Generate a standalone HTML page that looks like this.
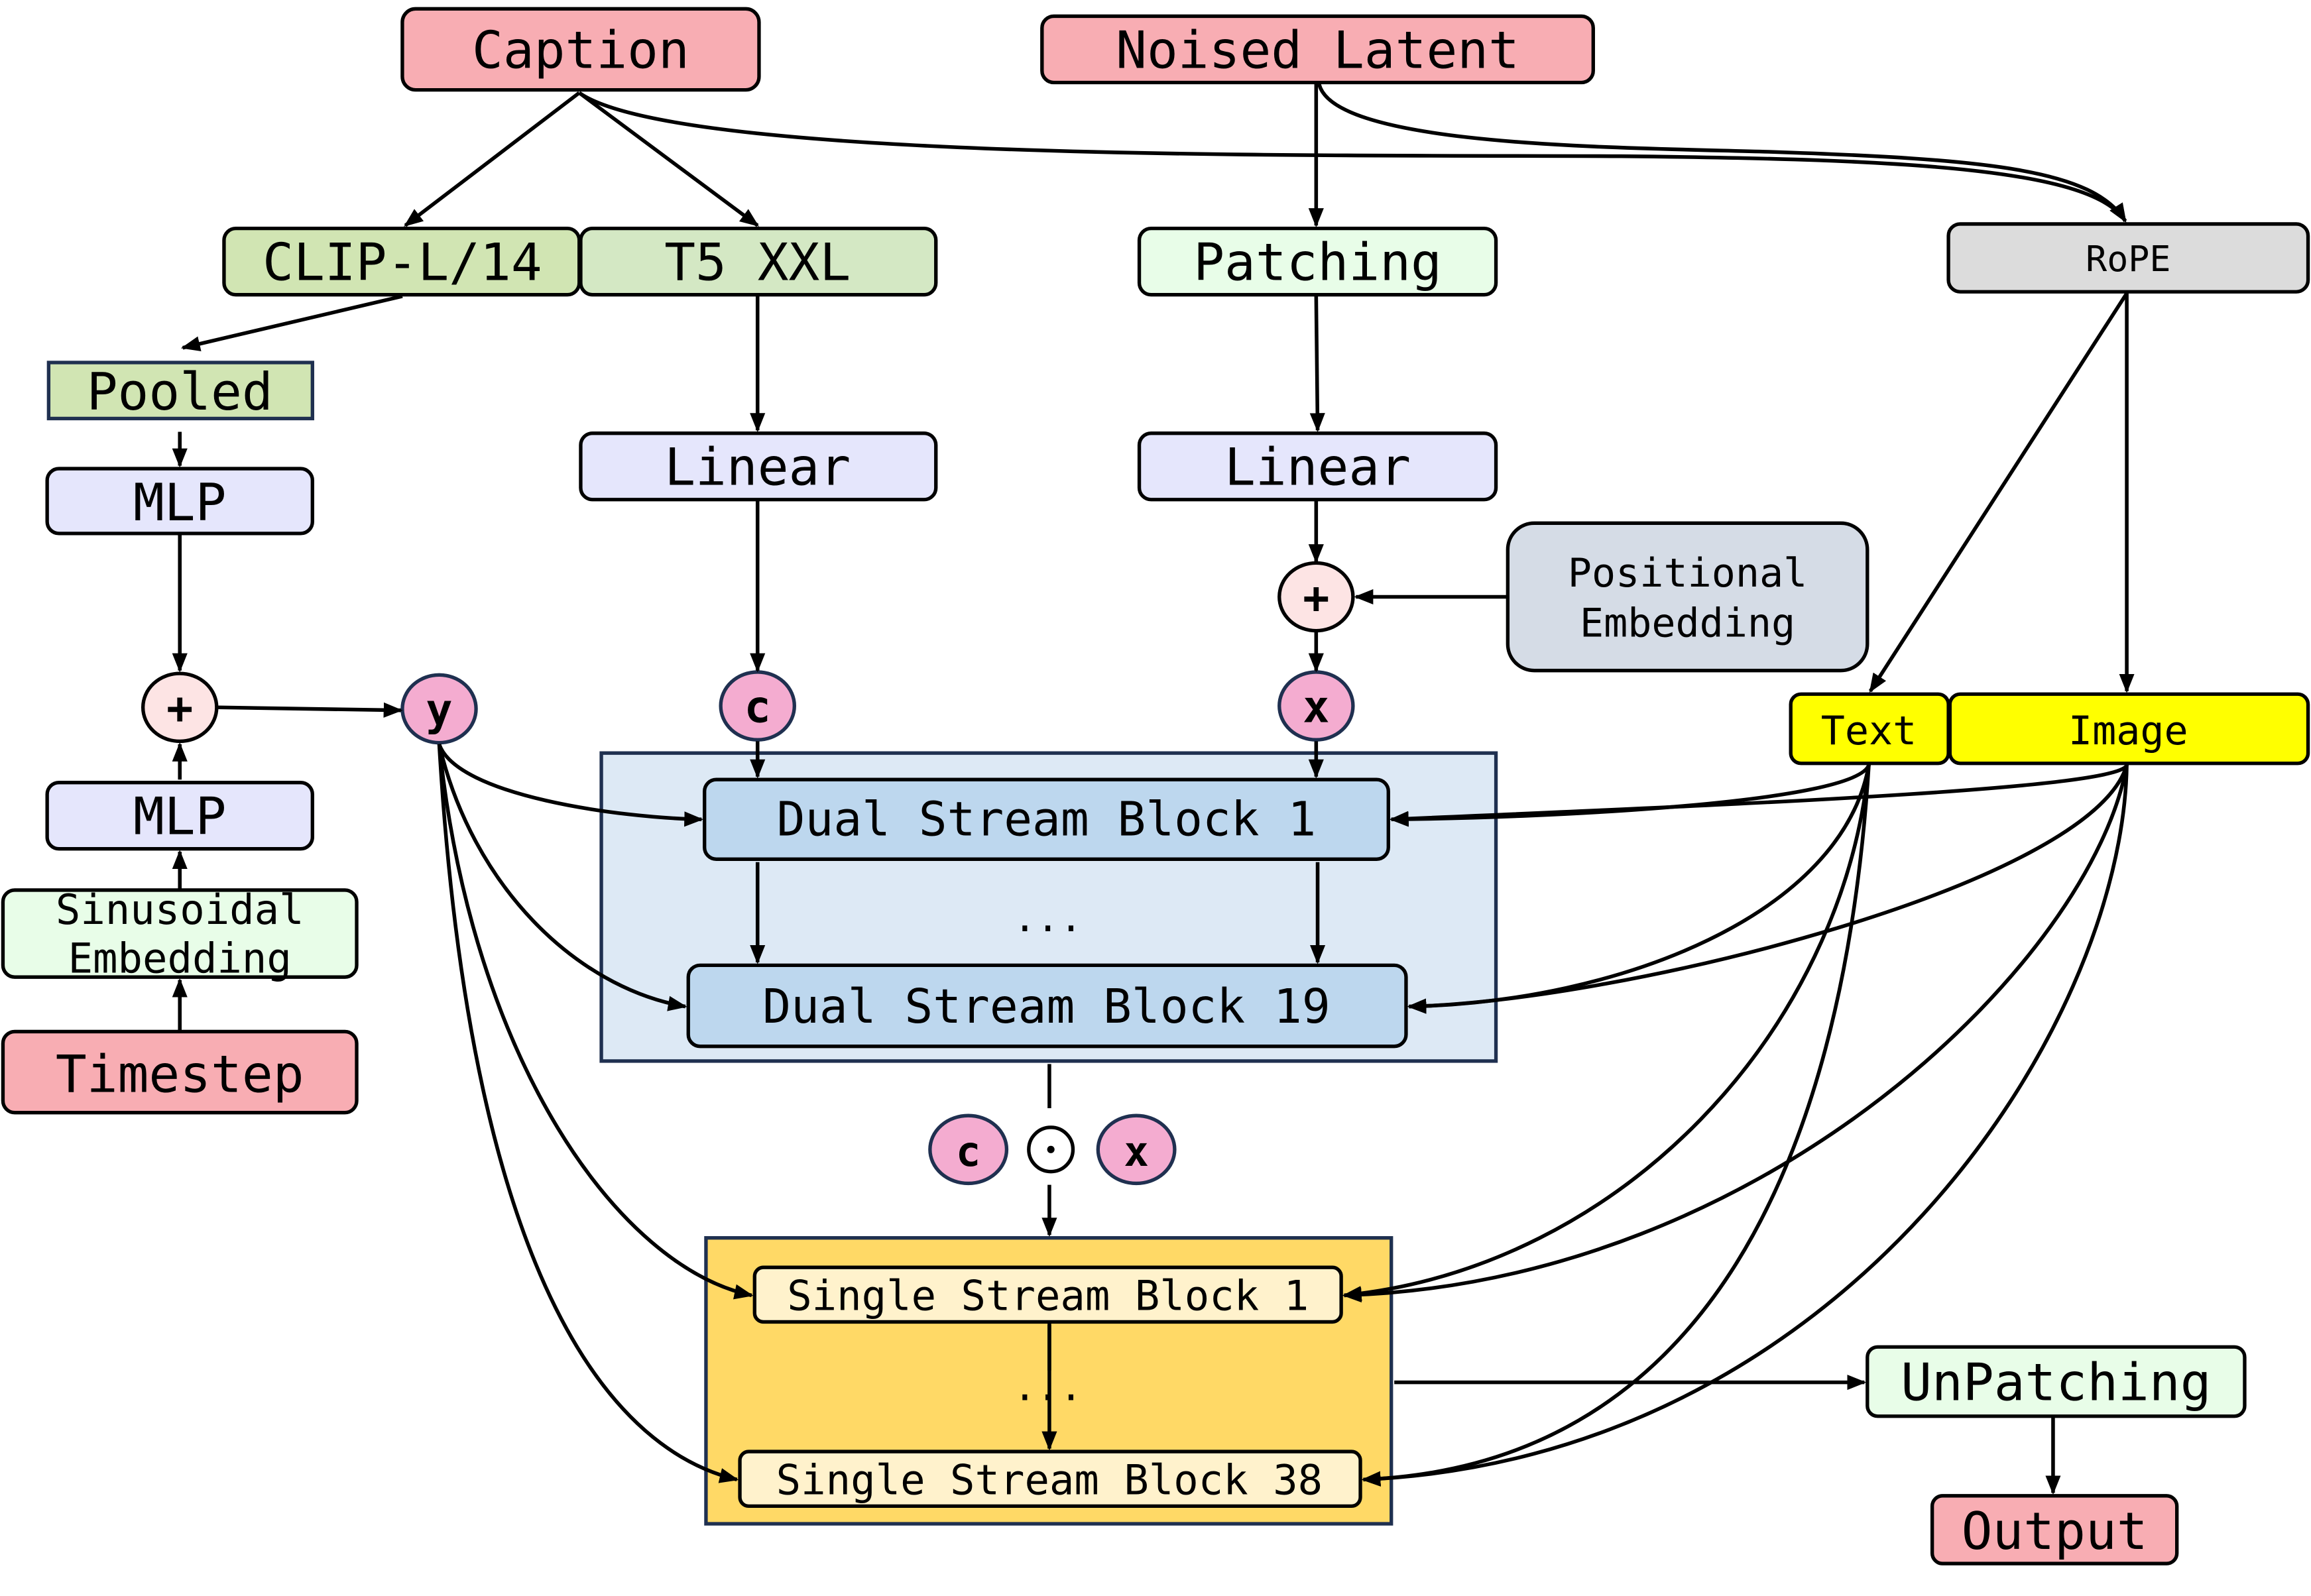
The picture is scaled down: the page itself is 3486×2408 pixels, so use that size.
<!DOCTYPE html>
<html><head><meta charset="utf-8"><style>html,body{margin:0;padding:0;background:#fff}svg{display:block}</style></head>
<body>
<svg width="3486" height="2408" viewBox="0 0 1568 1083" preserveAspectRatio="none" xmlns="http://www.w3.org/2000/svg" font-family="'DejaVu Sans Mono','Liberation Mono',monospace">
<defs>
<marker id="b" viewBox="0 0 10 10" refX="9" refY="5" markerWidth="13" markerHeight="13" orient="auto" markerUnits="userSpaceOnUse"><path d="M0,1L10,5L0,9z" fill="#000"/></marker>
</defs>
<g stroke="#000" stroke-width="2.4">
<rect x="408" y="511" width="607" height="209" fill="#dde9f5" stroke="#1f3050"/>
<rect x="479" y="840" width="465" height="194" fill="#ffd966" stroke="#1f3050"/>
<rect x="273" y="6" width="242" height="55" rx="9" fill="#f8adb3"/>
<rect x="707" y="11" width="374" height="45" rx="8" fill="#f8adb3"/>
<rect x="152" y="155" width="241" height="45" rx="8" fill="#d1e5b3"/>
<rect x="394" y="155" width="241" height="45" rx="8" fill="#d4e8c4"/>
<rect x="773" y="155" width="242" height="45" rx="8" fill="#e8fde8"/>
<rect x="1322" y="152" width="244" height="46" rx="8" fill="#dcdcdc"/>
<rect x="33" y="246" width="179" height="38" fill="#d1e5b3" stroke="#1f3050"/>
<rect x="32" y="318" width="180" height="44" rx="8" fill="#e5e6fc"/>
<rect x="394" y="294" width="241" height="45" rx="8" fill="#e5e6fc"/>
<rect x="773" y="294" width="242" height="45" rx="8" fill="#e5e6fc"/>
<rect x="1023" y="355" width="244" height="100" rx="18" fill="#d5dce6"/>
<rect x="1215" y="471" width="107" height="47" rx="7" fill="#ffff00"/>
<rect x="1323" y="471" width="243" height="47" rx="7" fill="#ffff00"/>
<rect x="32" y="531" width="180" height="45" rx="8" fill="#e5e6fc"/>
<rect x="2" y="604" width="240" height="59" rx="8" fill="#e8fde8"/>
<rect x="2" y="700" width="240" height="55" rx="8" fill="#f8adb3"/>
<rect x="478" y="529" width="464" height="54" rx="8" fill="#bdd7ee"/>
<rect x="467" y="655" width="487" height="55" rx="8" fill="#bdd7ee"/>
<rect x="512" y="860" width="398" height="37" rx="6" fill="#fff2cc"/>
<rect x="502" y="985" width="421" height="37" rx="6" fill="#fff2cc"/>
<rect x="1267" y="914" width="256" height="47" rx="7" fill="#e8fde8"/>
<rect x="1311" y="1015" width="166" height="46" rx="7" fill="#f8adb3"/>
<ellipse cx="122" cy="480" rx="25" ry="23" fill="#fde4e4"/>
<ellipse cx="893" cy="405" rx="25" ry="23" fill="#fde4e4"/>
<ellipse cx="298" cy="481" rx="25" ry="23" fill="#f4acd0" stroke="#1f3050"/>
<ellipse cx="514" cy="479" rx="25" ry="23" fill="#f4acd0" stroke="#1f3050"/>
<ellipse cx="893" cy="479" rx="25" ry="23" fill="#f4acd0" stroke="#1f3050"/>
<ellipse cx="657" cy="780" rx="26" ry="23" fill="#f4acd0" stroke="#1f3050"/>
<ellipse cx="771" cy="780" rx="26" ry="23" fill="#f4acd0" stroke="#1f3050"/>
<circle cx="713" cy="780" r="15" fill="#fff"/>
</g>
<circle cx="713" cy="780" r="2.5" fill="#000"/>
<g stroke="#000" stroke-width="2.5" fill="none" marker-end="url(#b)">
<path d="M393,63 L275,153"/>
<path d="M393,63 L514,153"/>
<path d="M273,201 L124,236"/>
<path d="M122,293 L122,316"/>
<path d="M122,363 L122,455"/>
<path d="M122,603 L122,578"/>
<path d="M122,699 L122,665"/>
<path d="M122,529 L122,505"/>
<path d="M148,480 L272,482"/>
<path d="M514,201 L514,292"/>
<path d="M514,340 L514,455"/>
<path d="M893,57 L893,153"/>
<path d="M893,201 L894,292"/>
<path d="M893,340 L893,381"/>
<path d="M893,429 L893,455"/>
<path d="M1022,405 L920,405"/>
<path d="M514,503 L514,527"/>
<path d="M893,503 L893,527"/>
<path d="M514,585 L514,653"/>
<path d="M894,585 L894,653"/>
<path d="M712,804 L712,838"/>
<path d="M712,898 L712,983"/>
<path d="M946,938 L1265,938"/>
<path d="M1393,962 L1393,1013"/>
<path d="M1443,199 L1443,469"/>
<path d="M1443,199 L1269,469"/>
<path d="M393,63 C460,110 900,105 1100,106 C1300,108 1420,115 1442,150"/>
<path d="M895,57 C905,100 1100,100 1200,103 C1350,108 1420,115 1442,150"/>
<path d="M298,505 C310,540 420,555 476,556"/>
<path d="M298,505 C320,600 390,670 465,683"/>
<path d="M298,505 C320,720 420,860 510,879"/>
<path d="M298,505 C320,880 420,985 500,1004"/>
<path d="M1268,519 C1260,545 1050,555 944,556"/>
<path d="M1443,519 C1440,535 1200,545 944,556"/>
<path d="M1268,519 C1250,620 1100,680 956,683"/>
<path d="M1443,519 C1420,600 1100,680 956,683"/>
<path d="M1268,519 C1250,700 1100,860 912,879"/>
<path d="M1443,519 C1420,650 1200,870 912,879"/>
<path d="M1268,519 C1250,800 1150,995 925,1004"/>
<path d="M1443,519 C1440,700 1250,990 925,1004"/>
</g>
<path d="M712,722 L712,752" stroke="#000" stroke-width="2.5"/>
<path d="M712,899 L712,930" stroke="#000" stroke-width="2.5"/>
<g text-anchor="middle" fill="#000">
<text x="394" y="46" font-size="35">Caption</text>
<text x="894" y="46" font-size="35">Noised Latent</text>
<text x="273" y="190" font-size="35">CLIP-L/14</text>
<text x="514" y="190" font-size="35">T5 XXL</text>
<text x="894" y="190" font-size="35">Patching</text>
<text x="1444" y="184" font-size="24">RoPE</text>
<text x="122" y="278" font-size="35">Pooled</text>
<text x="122" y="353" font-size="35">MLP</text>
<text x="514" y="329" font-size="35">Linear</text>
<text x="894" y="329" font-size="35">Linear</text>
<text x="1145" y="398" font-size="27">Positional</text>
<text x="1145" y="432" font-size="27">Embedding</text>
<text x="1268" y="505" font-size="27">Text</text>
<text x="1444" y="505" font-size="27">Image</text>
<text x="122" y="566" font-size="35">MLP</text>
<text x="122" y="627" font-size="28">Sinusoidal</text>
<text x="122" y="660" font-size="28">Embedding</text>
<text x="122" y="741" font-size="35">Timestep</text>
<text x="710" y="567" font-size="32">Dual Stream Block 1</text>
<text x="710" y="694" font-size="32">Dual Stream Block 19</text>
<text x="711" y="632" font-size="26">...</text>
<text x="711" y="889" font-size="28">Single Stream Block 1</text>
<text x="712" y="1014" font-size="28">Single Stream Block 38</text>
<text x="711" y="950" font-size="26">...</text>
<text x="1395" y="950" font-size="35">UnPatching</text>
<text x="1394" y="1051" font-size="35">Output</text>
<text x="122" y="491" font-size="30" font-weight="bold">+</text>
<text x="893" y="416" font-size="30" font-weight="bold">+</text>
<text x="298" y="492" font-size="30" font-weight="bold">y</text>
<text x="514" y="490" font-size="30" font-weight="bold">c</text>
<text x="893" y="490" font-size="30" font-weight="bold">x</text>
<text x="657" y="791" font-size="28" font-weight="bold">c</text>
<text x="771" y="791" font-size="28" font-weight="bold">x</text>
</g>
</svg>
</body></html>
